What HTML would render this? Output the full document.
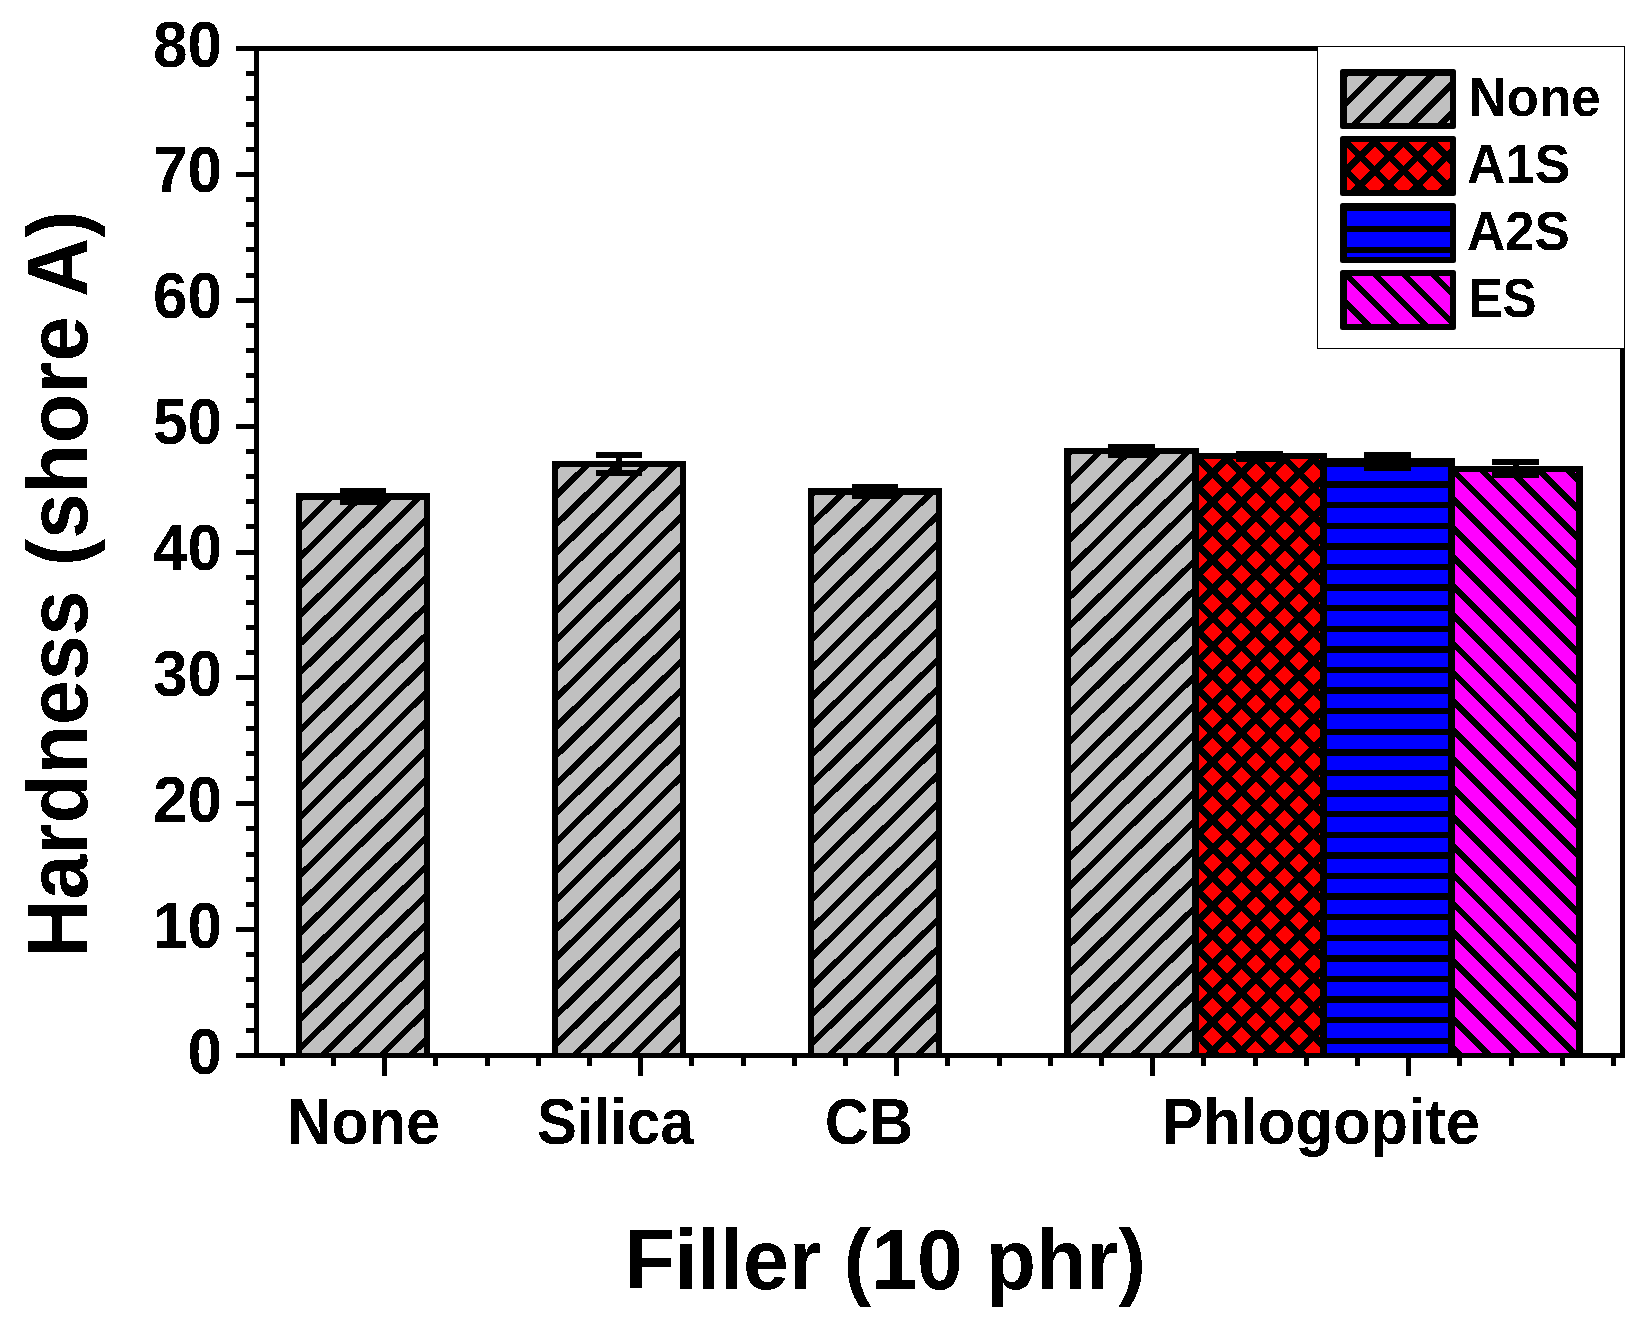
<!DOCTYPE html>
<html lang="en"><head><meta charset="utf-8"><title>Hardness (shore A) vs Filler (10 phr)</title>
<style>html,body{margin:0;padding:0;background:#fff}svg{display:block}text{font-family:"Liberation Sans",sans-serif;font-weight:700;fill:#000}</style>
</head><body>
<svg width="1650" height="1332" viewBox="0 0 1650 1332">
<rect x="0" y="0" width="1650" height="1332" fill="#fff"/>
<g shape-rendering="crispEdges">
<rect x="296" y="493" width="134" height="560" fill="#000"/>
<rect x="552" y="461" width="134" height="592" fill="#000"/>
<rect x="808" y="488" width="134" height="565" fill="#000"/>
<rect x="1064" y="448" width="135" height="605" fill="#000"/>
<rect x="1192" y="453" width="135" height="600" fill="#000"/>
<rect x="1320" y="458" width="135" height="595" fill="#000"/>
<rect x="1448" y="466" width="135" height="587" fill="#000"/>
<clipPath id="c1"><rect x="302" y="500" width="122" height="553"/></clipPath>
<rect x="302" y="500" width="122" height="553" fill="#c0c0c0"/>
<g clip-path="url(#c1)"><path d="M294.00 476.27L432.00 340.20M294.00 505.18L432.00 369.11M294.00 534.09L432.00 398.02M294.00 563.00L432.00 426.93M294.00 591.91L432.00 455.84M294.00 620.82L432.00 484.75M294.00 649.73L432.00 513.66M294.00 678.64L432.00 542.57M294.00 707.55L432.00 571.48M294.00 736.46L432.00 600.39M294.00 765.37L432.00 629.30M294.00 794.28L432.00 658.21M294.00 823.19L432.00 687.12M294.00 852.10L432.00 716.03M294.00 881.01L432.00 744.94M294.00 909.92L432.00 773.85M294.00 938.83L432.00 802.76M294.00 967.74L432.00 831.67M294.00 996.65L432.00 860.58M294.00 1025.56L432.00 889.49M294.00 1054.47L432.00 918.40M294.00 1083.38L432.00 947.31M294.00 1112.29L432.00 976.22M294.00 1141.20L432.00 1005.13M294.00 1170.11L432.00 1034.04" stroke="#000" stroke-width="5.9" fill="none"/></g>
<clipPath id="c2"><rect x="558" y="467" width="122" height="586"/></clipPath>
<rect x="558" y="467" width="122" height="586" fill="#c0c0c0"/>
<g clip-path="url(#c2)"><path d="M550.00 444.03L688.00 307.96M550.00 472.91L688.00 336.84M550.00 501.79L688.00 365.72M550.00 530.67L688.00 394.60M550.00 559.55L688.00 423.48M550.00 588.43L688.00 452.36M550.00 617.31L688.00 481.24M550.00 646.19L688.00 510.12M550.00 675.07L688.00 539.00M550.00 703.95L688.00 567.88M550.00 732.83L688.00 596.76M550.00 761.71L688.00 625.64M550.00 790.59L688.00 654.52M550.00 819.47L688.00 683.40M550.00 848.35L688.00 712.28M550.00 877.23L688.00 741.16M550.00 906.11L688.00 770.04M550.00 934.99L688.00 798.92M550.00 963.87L688.00 827.80M550.00 992.75L688.00 856.68M550.00 1021.63L688.00 885.56M550.00 1050.51L688.00 914.44M550.00 1079.39L688.00 943.32M550.00 1108.27L688.00 972.20M550.00 1137.15L688.00 1001.08M550.00 1166.03L688.00 1029.96" stroke="#000" stroke-width="5.9" fill="none"/></g>
<clipPath id="c3"><rect x="814" y="495" width="122" height="558"/></clipPath>
<rect x="814" y="495" width="122" height="558" fill="#c0c0c0"/>
<g clip-path="url(#c3)"><path d="M806.00 471.82L944.00 335.75M806.00 500.70L944.00 364.64M806.00 529.59L944.00 393.52M806.00 558.47L944.00 422.41M806.00 587.36L944.00 451.29M806.00 616.24L944.00 480.18M806.00 645.13L944.00 509.06M806.00 674.01L944.00 537.94M806.00 702.90L944.00 566.83M806.00 731.78L944.00 595.71M806.00 760.67L944.00 624.60M806.00 789.55L944.00 653.48M806.00 818.44L944.00 682.37M806.00 847.32L944.00 711.25M806.00 876.21L944.00 740.14M806.00 905.09L944.00 769.02M806.00 933.98L944.00 797.91M806.00 962.86L944.00 826.79M806.00 991.75L944.00 855.68M806.00 1020.63L944.00 884.56M806.00 1049.52L944.00 913.45M806.00 1078.40L944.00 942.33M806.00 1107.29L944.00 971.22M806.00 1136.17L944.00 1000.10M806.00 1165.06L944.00 1028.99" stroke="#000" stroke-width="5.9" fill="none"/></g>
<clipPath id="c4"><rect x="1071" y="454" width="121" height="599"/></clipPath>
<rect x="1071" y="454" width="121" height="599" fill="#c0c0c0"/>
<g clip-path="url(#c4)"><path d="M1063.00 430.26L1200.00 295.18M1063.00 459.18L1200.00 324.09M1063.00 488.09L1200.00 353.01M1063.00 517.00L1200.00 381.92M1063.00 545.91L1200.00 410.83M1063.00 574.83L1200.00 439.75M1063.00 603.74L1200.00 468.66M1063.00 632.65L1200.00 497.57M1063.00 661.57L1200.00 526.48M1063.00 690.48L1200.00 555.40M1063.00 719.39L1200.00 584.31M1063.00 748.31L1200.00 613.22M1063.00 777.22L1200.00 642.14M1063.00 806.13L1200.00 671.05M1063.00 835.04L1200.00 699.96M1063.00 863.96L1200.00 728.88M1063.00 892.87L1200.00 757.79M1063.00 921.78L1200.00 786.70M1063.00 950.70L1200.00 815.61M1063.00 979.61L1200.00 844.53M1063.00 1008.52L1200.00 873.44M1063.00 1037.43L1200.00 902.35M1063.00 1066.35L1200.00 931.27M1063.00 1095.26L1200.00 960.18M1063.00 1124.17L1200.00 989.09M1063.00 1153.09L1200.00 1018.01M1063.00 1182.00L1200.00 1046.92" stroke="#000" stroke-width="5.9" fill="none"/></g>
<clipPath id="c5"><rect x="1199" y="459" width="121" height="594"/></clipPath>
<rect x="1199" y="459" width="121" height="594" fill="#ff0000"/>
<g clip-path="url(#c5)"><path d="M1191.00 437.01L1328.00 300.01M1191.00 465.88L1328.00 328.88M1191.00 494.75L1328.00 357.75M1191.00 523.62L1328.00 386.62M1191.00 552.49L1328.00 415.49M1191.00 581.36L1328.00 444.36M1191.00 610.23L1328.00 473.23M1191.00 639.10L1328.00 502.10M1191.00 667.97L1328.00 530.97M1191.00 696.84L1328.00 559.84M1191.00 725.71L1328.00 588.71M1191.00 754.58L1328.00 617.58M1191.00 783.45L1328.00 646.45M1191.00 812.32L1328.00 675.32M1191.00 841.19L1328.00 704.19M1191.00 870.06L1328.00 733.06M1191.00 898.93L1328.00 761.93M1191.00 927.80L1328.00 790.80M1191.00 956.67L1328.00 819.67M1191.00 985.54L1328.00 848.54M1191.00 1014.41L1328.00 877.41M1191.00 1043.28L1328.00 906.28M1191.00 1072.15L1328.00 935.15M1191.00 1101.02L1328.00 964.02M1191.00 1129.89L1328.00 992.89M1191.00 1158.76L1328.00 1021.76M1191.00 1187.63L1328.00 1050.63M1191.00 1057.92L1328.00 1194.92M1191.00 1029.05L1328.00 1166.05M1191.00 1000.18L1328.00 1137.18M1191.00 971.31L1328.00 1108.31M1191.00 942.44L1328.00 1079.44M1191.00 913.57L1328.00 1050.57M1191.00 884.70L1328.00 1021.70M1191.00 855.83L1328.00 992.83M1191.00 826.96L1328.00 963.96M1191.00 798.09L1328.00 935.09M1191.00 769.22L1328.00 906.22M1191.00 740.35L1328.00 877.35M1191.00 711.48L1328.00 848.48M1191.00 682.61L1328.00 819.61M1191.00 653.74L1328.00 790.74M1191.00 624.87L1328.00 761.87M1191.00 596.00L1328.00 733.00M1191.00 567.13L1328.00 704.13M1191.00 538.26L1328.00 675.26M1191.00 509.39L1328.00 646.39M1191.00 480.52L1328.00 617.52M1191.00 451.65L1328.00 588.65M1191.00 422.78L1328.00 559.78M1191.00 393.91L1328.00 530.91M1191.00 365.04L1328.00 502.04M1191.00 336.17L1328.00 473.17" stroke="#000" stroke-width="7.0" fill="none"/></g>
<clipPath id="c6"><rect x="1327" y="461" width="121" height="592"/></clipPath>
<rect x="1327" y="461" width="121" height="592" fill="#0000ff"/>
<g clip-path="url(#c6)"><path d="M1319.00 443.30H1456.00M1319.00 463.90H1456.00M1319.00 484.50H1456.00M1319.00 505.10H1456.00M1319.00 525.70H1456.00M1319.00 546.30H1456.00M1319.00 566.90H1456.00M1319.00 587.50H1456.00M1319.00 608.10H1456.00M1319.00 628.70H1456.00M1319.00 649.30H1456.00M1319.00 669.90H1456.00M1319.00 690.50H1456.00M1319.00 711.10H1456.00M1319.00 731.70H1456.00M1319.00 752.30H1456.00M1319.00 772.90H1456.00M1319.00 793.50H1456.00M1319.00 814.10H1456.00M1319.00 834.70H1456.00M1319.00 855.30H1456.00M1319.00 875.90H1456.00M1319.00 896.50H1456.00M1319.00 917.10H1456.00M1319.00 937.70H1456.00M1319.00 958.30H1456.00M1319.00 978.90H1456.00M1319.00 999.50H1456.00M1319.00 1020.10H1456.00M1319.00 1040.70H1456.00M1319.00 1061.30H1456.00" stroke="#000" stroke-width="6.4" fill="none"/></g>
<clipPath id="c7"><rect x="1455" y="472" width="121" height="581"/></clipPath>
<rect x="1455" y="472" width="121" height="581" fill="#ff00ff"/>
<g clip-path="url(#c7)"><path d="M1447.00 1070.67L1584.00 1207.67M1447.00 1041.80L1584.00 1178.80M1447.00 1012.93L1584.00 1149.93M1447.00 984.06L1584.00 1121.06M1447.00 955.19L1584.00 1092.19M1447.00 926.32L1584.00 1063.32M1447.00 897.45L1584.00 1034.45M1447.00 868.58L1584.00 1005.58M1447.00 839.71L1584.00 976.71M1447.00 810.84L1584.00 947.84M1447.00 781.97L1584.00 918.97M1447.00 753.10L1584.00 890.10M1447.00 724.23L1584.00 861.23M1447.00 695.36L1584.00 832.36M1447.00 666.49L1584.00 803.49M1447.00 637.62L1584.00 774.62M1447.00 608.75L1584.00 745.75M1447.00 579.88L1584.00 716.88M1447.00 551.01L1584.00 688.01M1447.00 522.14L1584.00 659.14M1447.00 493.27L1584.00 630.27M1447.00 464.40L1584.00 601.40M1447.00 435.53L1584.00 572.53M1447.00 406.66L1584.00 543.66M1447.00 377.79L1584.00 514.79M1447.00 348.92L1584.00 485.92" stroke="#000" stroke-width="6.2" fill="none"/></g>
<rect x="340" y="488" width="46" height="6" fill="#000"/>
<rect x="340" y="499" width="46" height="6" fill="#000"/>
<rect x="360.0" y="488" width="6" height="17" fill="#000"/>
<rect x="596" y="452" width="46" height="6" fill="#000"/>
<rect x="596" y="470" width="46" height="6" fill="#000"/>
<rect x="616.0" y="452" width="6" height="24" fill="#000"/>
<rect x="852" y="484" width="46" height="6" fill="#000"/>
<rect x="852" y="493" width="46" height="6" fill="#000"/>
<rect x="872.0" y="484" width="6" height="15" fill="#000"/>
<rect x="1108" y="444" width="47" height="6" fill="#000"/>
<rect x="1108" y="452" width="47" height="6" fill="#000"/>
<rect x="1128.5" y="444" width="6" height="14" fill="#000"/>
<rect x="1236" y="451" width="47" height="6" fill="#000"/>
<rect x="1236" y="456" width="47" height="6" fill="#000"/>
<rect x="1256.5" y="451" width="6" height="11" fill="#000"/>
<rect x="1364" y="452" width="47" height="6" fill="#000"/>
<rect x="1364" y="465" width="47" height="6" fill="#000"/>
<rect x="1384.5" y="452" width="6" height="19" fill="#000"/>
<rect x="1492" y="459" width="47" height="6" fill="#000"/>
<rect x="1492" y="472" width="47" height="6" fill="#000"/>
<rect x="1512.5" y="459" width="6" height="19" fill="#000"/>
<g fill="#000">
<rect x="254" y="46" width="5" height="1012"/>
<rect x="1620" y="46" width="5" height="1012"/>
<rect x="236" y="46" width="1389" height="5"/>
<rect x="236" y="1053" width="1389" height="5"/>
<rect x="236" y="1053.00" width="19" height="5"/>
<rect x="246" y="1027.83" width="9" height="5"/>
<rect x="246" y="1002.65" width="9" height="5"/>
<rect x="246" y="977.48" width="9" height="5"/>
<rect x="246" y="952.30" width="9" height="5"/>
<rect x="236" y="927.12" width="19" height="5"/>
<rect x="246" y="901.95" width="9" height="5"/>
<rect x="246" y="876.77" width="9" height="5"/>
<rect x="246" y="851.60" width="9" height="5"/>
<rect x="246" y="826.42" width="9" height="5"/>
<rect x="236" y="801.25" width="19" height="5"/>
<rect x="246" y="776.08" width="9" height="5"/>
<rect x="246" y="750.90" width="9" height="5"/>
<rect x="246" y="725.72" width="9" height="5"/>
<rect x="246" y="700.55" width="9" height="5"/>
<rect x="236" y="675.38" width="19" height="5"/>
<rect x="246" y="650.20" width="9" height="5"/>
<rect x="246" y="625.02" width="9" height="5"/>
<rect x="246" y="599.85" width="9" height="5"/>
<rect x="246" y="574.67" width="9" height="5"/>
<rect x="236" y="549.50" width="19" height="5"/>
<rect x="246" y="524.32" width="9" height="5"/>
<rect x="246" y="499.15" width="9" height="5"/>
<rect x="246" y="473.98" width="9" height="5"/>
<rect x="246" y="448.80" width="9" height="5"/>
<rect x="236" y="423.62" width="19" height="5"/>
<rect x="246" y="398.45" width="9" height="5"/>
<rect x="246" y="373.27" width="9" height="5"/>
<rect x="246" y="348.10" width="9" height="5"/>
<rect x="246" y="322.92" width="9" height="5"/>
<rect x="236" y="297.75" width="19" height="5"/>
<rect x="246" y="272.57" width="9" height="5"/>
<rect x="246" y="247.40" width="9" height="5"/>
<rect x="246" y="222.23" width="9" height="5"/>
<rect x="246" y="197.05" width="9" height="5"/>
<rect x="236" y="171.88" width="19" height="5"/>
<rect x="246" y="146.70" width="9" height="5"/>
<rect x="246" y="121.52" width="9" height="5"/>
<rect x="246" y="96.35" width="9" height="5"/>
<rect x="246" y="71.17" width="9" height="5"/>
<rect x="236" y="46.00" width="19" height="5"/>
<rect x="279.70" y="1056" width="5" height="10"/>
<rect x="330.90" y="1056" width="5" height="10"/>
<rect x="382.10" y="1056" width="5" height="20"/>
<rect x="433.30" y="1056" width="5" height="10"/>
<rect x="484.50" y="1056" width="5" height="10"/>
<rect x="535.70" y="1056" width="5" height="10"/>
<rect x="586.90" y="1056" width="5" height="10"/>
<rect x="638.10" y="1056" width="5" height="20"/>
<rect x="689.30" y="1056" width="5" height="10"/>
<rect x="740.50" y="1056" width="5" height="10"/>
<rect x="791.70" y="1056" width="5" height="10"/>
<rect x="842.90" y="1056" width="5" height="10"/>
<rect x="894.10" y="1056" width="5" height="20"/>
<rect x="945.30" y="1056" width="5" height="10"/>
<rect x="996.50" y="1056" width="5" height="10"/>
<rect x="1047.70" y="1056" width="5" height="10"/>
<rect x="1098.90" y="1056" width="5" height="10"/>
<rect x="1150.10" y="1056" width="5" height="20"/>
<rect x="1201.30" y="1056" width="5" height="10"/>
<rect x="1252.50" y="1056" width="5" height="10"/>
<rect x="1303.70" y="1056" width="5" height="10"/>
<rect x="1354.90" y="1056" width="5" height="10"/>
<rect x="1406.10" y="1056" width="5" height="20"/>
<rect x="1457.30" y="1056" width="5" height="10"/>
<rect x="1508.50" y="1056" width="5" height="10"/>
<rect x="1559.70" y="1056" width="5" height="10"/>
<rect x="1610.90" y="1056" width="5" height="10"/>
</g>
<rect x="1317.5" y="46.5" width="307" height="302" fill="#fff" stroke="#000" stroke-width="1"/>
</g>
<g shape-rendering="crispEdges">
<rect x="1340" y="69" width="116" height="60" rx="2.5" fill="#000" shape-rendering="geometricPrecision"/>
<clipPath id="c8"><rect x="1347" y="76" width="103" height="47"/></clipPath>
<rect x="1347" y="76" width="103" height="47" fill="#c0c0c0"/>
<g clip-path="url(#c8)"><path d="M1339.00 52.76L1458.00 -66.24M1339.00 81.63L1458.00 -37.37M1339.00 110.50L1458.00 -8.50M1339.00 139.37L1458.00 20.37M1339.00 168.24L1458.00 49.24M1339.00 197.11L1458.00 78.11M1339.00 225.98L1458.00 106.98" stroke="#000" stroke-width="6.0" fill="none"/></g>
<rect x="1340" y="136" width="116" height="60" rx="2.5" fill="#000" shape-rendering="geometricPrecision"/>
<clipPath id="c9"><rect x="1347" y="142" width="103" height="48"/></clipPath>
<rect x="1347" y="142" width="103" height="48" fill="#ff0000"/>
<g clip-path="url(#c9)"><path d="M1339.00 119.71L1458.00 0.71M1339.00 148.58L1458.00 29.58M1339.00 177.45L1458.00 58.45M1339.00 206.32L1458.00 87.32M1339.00 235.19L1458.00 116.19M1339.00 264.06L1458.00 145.06M1339.00 292.93L1458.00 173.93M1339.00 192.69L1458.00 311.69M1339.00 163.82L1458.00 282.82M1339.00 134.95L1458.00 253.95M1339.00 106.08L1458.00 225.08M1339.00 77.21L1458.00 196.21M1339.00 48.34L1458.00 167.34" stroke="#000" stroke-width="6.8" fill="none"/></g>
<rect x="1340" y="203" width="116" height="60" rx="2.5" fill="#000" shape-rendering="geometricPrecision"/>
<clipPath id="c10"><rect x="1347" y="209" width="103" height="48"/></clipPath>
<rect x="1347" y="209" width="103" height="48" fill="#0000ff"/>
<g clip-path="url(#c10)"><path d="M1339.00 187.80H1458.00M1339.00 208.40H1458.00M1339.00 229.00H1458.00M1339.00 249.60H1458.00" stroke="#000" stroke-width="6.0" fill="none"/></g>
<rect x="1340" y="270" width="116" height="60" rx="2.5" fill="#000" shape-rendering="geometricPrecision"/>
<clipPath id="c11"><rect x="1347" y="276" width="103" height="48"/></clipPath>
<rect x="1347" y="276" width="103" height="48" fill="#ff00ff"/>
<g clip-path="url(#c11)"><path d="M1339.00 353.88L1458.00 472.88M1339.00 325.01L1458.00 444.01M1339.00 296.14L1458.00 415.14M1339.00 267.27L1458.00 386.27M1339.00 238.40L1458.00 357.40M1339.00 209.53L1458.00 328.53M1339.00 180.66L1458.00 299.66" stroke="#000" stroke-width="6.0" fill="none"/></g>
</g>
<filter id="bw" filterUnits="userSpaceOnUse" x="0" y="0" width="1650" height="1332" color-interpolation-filters="sRGB"><feComponentTransfer><feFuncA type="discrete" tableValues="0 1"/></feComponentTransfer></filter>
<g filter="url(#bw)">
<text transform="translate(1468.4,115.9) scale(0.952,1)" font-size="55.6">None</text>
<text transform="translate(1466.9,182.7) scale(0.955,1)" font-size="55.6">A1S</text>
<text transform="translate(1466.9,249.6) scale(0.952,1)" font-size="55.6">A2S</text>
<text transform="translate(1468.5,316.5) scale(0.92,1)" font-size="55.6">ES</text>
<text transform="translate(222,1073.60) scale(0.955,1)" font-size="65" text-anchor="end">0</text>
<text transform="translate(222,947.73) scale(0.955,1)" font-size="65" text-anchor="end">10</text>
<text transform="translate(222,821.85) scale(0.955,1)" font-size="65" text-anchor="end">20</text>
<text transform="translate(222,695.98) scale(0.955,1)" font-size="65" text-anchor="end">30</text>
<text transform="translate(222,570.10) scale(0.955,1)" font-size="65" text-anchor="end">40</text>
<text transform="translate(222,444.23) scale(0.955,1)" font-size="65" text-anchor="end">50</text>
<text transform="translate(222,318.35) scale(0.955,1)" font-size="65" text-anchor="end">60</text>
<text transform="translate(222,192.47) scale(0.955,1)" font-size="65" text-anchor="end">70</text>
<text transform="translate(222,66.60) scale(0.955,1)" font-size="65" text-anchor="end">80</text>
<text transform="translate(363.6,1144.2) scale(0.955,1)" font-size="64" text-anchor="middle">None</text>
<text transform="translate(615.3,1144.2) scale(0.936,1)" font-size="64" text-anchor="middle">Silica</text>
<text transform="translate(869.0,1144.2) scale(0.955,1)" font-size="64" text-anchor="middle">CB</text>
<text transform="translate(1321.0,1144.2) scale(0.962,1)" font-size="64" text-anchor="middle">Phlogopite</text>
<text transform="translate(885,1288.7) scale(0.976,1)" font-size="84.4" text-anchor="middle">Filler (10 phr)</text>
<text transform="translate(87,957.8) rotate(-90) scale(0.948,1)" font-size="85">Hardness</text>
<text transform="translate(87,210.6) rotate(-90) scale(0.961,1)" font-size="85" text-anchor="end">(shore A)</text>
</g>
</svg></body></html>
